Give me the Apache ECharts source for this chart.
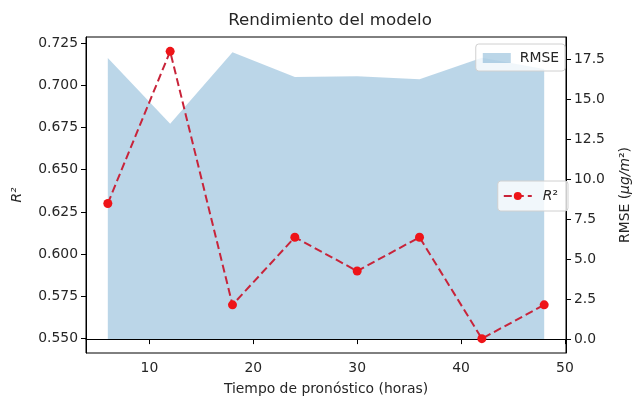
<!DOCTYPE html>
<html>
<head>
<meta charset="utf-8">
<script src="https://cdn.jsdelivr.net/npm/echarts@6/dist/echarts.min.js"></script>
<style>html,body{margin:0;padding:0;background:#fff;}#c{width:640px;height:401px;}</style>
</head>
<body>
<div id="c"></div>
<script>
const horas = [6, 12, 18, 24, 30, 36, 42, 48];
const r2 = [0.63, 0.72, 0.57, 0.61, 0.59, 0.61, 0.55, 0.57];
const rmse = [17.58, 13.47, 17.95, 16.39, 16.45, 16.25, 17.6, 16.9];
const xTicks = [10, 20, 30, 40, 50];
const r2Ticks = [0.55, 0.575, 0.6, 0.625, 0.65, 0.675, 0.7, 0.725];
const rmseTicks = [0, 2.5, 5, 7.5, 10, 12.5, 15, 17.5];

const FONT = 'DejaVu Sans';
const FS = 13.9;
const TXT = '#262626';

const chart = echarts.init(document.getElementById('c'), null, {renderer: 'canvas'});
chart.setOption({
  animation: false,
  backgroundColor: '#fff',
  textStyle: {fontFamily: FONT},
  title: {
    text: 'Rendimiento del modelo',
    left: 330, top: 12, padding: 0, textAlign: 'center',
    textStyle: {fontFamily: FONT, fontSize: 16.7, fontWeight: 'normal', color: TXT}
  },
  grid: {left: 86, right: 65, top: 37, bottom: 46, show: true, borderColor: '#000', borderWidth: 1, backgroundColor: 'transparent'},
  legend: [
    {
      data: [{name: 'RMSE', icon: 'rect'}], right: 75, top: 44, orient: 'vertical',
      itemWidth: 28, itemHeight: 10, padding: [7, 6, 6, 7],
      borderColor: '#d0d0d0', borderWidth: 1, borderRadius: 3,
      backgroundColor: 'rgba(255,255,255,0.8)',
      textStyle: {fontFamily: FONT, fontSize: FS, color: TXT, padding: [0, 0, 0, 4]}
    },
    {
      data: ['R²'], right: 72, top: 181, orient: 'vertical',
      itemWidth: 28, itemHeight: 10, padding: [8, 10, 8, 5],
      borderColor: '#d0d0d0', borderWidth: 1, borderRadius: 3,
      backgroundColor: 'rgba(255,255,255,0.8)',
      formatter: function () { return '{i|R}{s|²}'; },
      textStyle: {fontFamily: FONT, fontSize: FS, color: TXT, padding: [0, 0, 0, 6],
        rich: {i: {fontStyle: 'italic', fontSize: FS, fontFamily: FONT, color: TXT}, s: {fontSize: FS, fontFamily: FONT, color: TXT}}}
    }
  ],
  xAxis: {
    type: 'value', min: 3.9, max: 50.1,
    name: 'Tiempo de pronóstico (horas)', nameLocation: 'middle', nameGap: 29,
    nameTextStyle: {fontFamily: FONT, fontSize: FS, color: TXT},
    axisLine: {show: true, lineStyle: {color: '#000', width: 1}},
    axisTick: {show: true, customValues: xTicks, length: 5, lineStyle: {color: '#000'}},
    axisLabel: {customValues: xTicks, fontFamily: FONT, fontSize: FS, color: TXT, margin: 8},
    splitLine: {show: false}
  },
  yAxis: [
    {
      type: 'value', min: 0.5415, max: 0.7285, position: 'left',
      name: 'R²', nameLocation: 'middle', nameGap: 62, nameRotate: 90,
      nameTextStyle: {fontFamily: FONT, fontSize: FS, color: TXT, fontStyle: 'italic'},
      axisLine: {show: true, lineStyle: {color: '#000', width: 1}},
      axisTick: {show: true, customValues: r2Ticks, length: 5, lineStyle: {color: '#000'}},
      axisLabel: {customValues: r2Ticks, fontFamily: FONT, fontSize: FS, color: TXT, margin: 8,
        formatter: v => v.toFixed(3)},
      splitLine: {show: false}
    },
    {
      type: 'value', min: -0.87, max: 18.9, position: 'right',
      name: 'RMSE ({i|μg/m}²)', nameLocation: 'middle', nameGap: 52, nameRotate: 90,
      nameTextStyle: {fontFamily: FONT, fontSize: FS, color: TXT,
        rich: {i: {fontStyle: 'italic', fontFamily: FONT, fontSize: FS, color: TXT}}},
      axisLine: {show: true, lineStyle: {color: '#000', width: 1}},
      axisTick: {show: true, customValues: rmseTicks, length: 5, lineStyle: {color: '#000'}},
      axisLabel: {customValues: rmseTicks, fontFamily: FONT, fontSize: FS, color: TXT, margin: 8,
        formatter: v => v.toFixed(1)},
      splitLine: {show: false}
    }
  ],
  series: [
    {
      name: 'RMSE', type: 'line', yAxisIndex: 1,
      data: horas.map((h, i) => [h, rmse[i]]),
      showSymbol: false, symbol: 'none',
      lineStyle: {width: 0, opacity: 0},
      itemStyle: {color: 'rgba(31,119,180,0.3)'},
      areaStyle: {color: 'rgba(31,119,180,0.3)', opacity: 1, origin: 0},
      z: 1
    },
    {
      name: 'R²', type: 'line', yAxisIndex: 0,
      data: horas.map((h, i) => [h, r2[i]]),
      symbol: 'circle', symbolSize: 9,
      lineStyle: {color: '#c8243a', width: 2, type: [8, 4]},
      itemStyle: {color: '#ee1418'},
      z: 3
    }
  ]
});
</script>
</body>
</html>
